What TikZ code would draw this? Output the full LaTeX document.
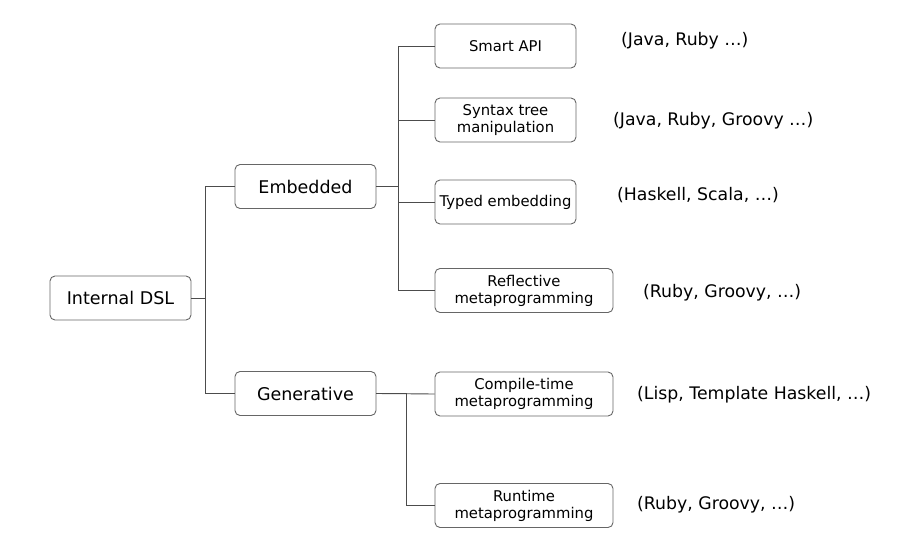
\documentclass[tikz,border=0pt]{standalone}
\usepackage{fontspec}
\setmainfont{DejaVu Sans}
\usepackage{tikz}
\usetikzlibrary{positioning}

\begin{document}
\begin{tikzpicture}[x=1pt, y=-1pt,
                % Style hộp
                bigbox/.style={draw=black!60, rounded corners=5pt, line width=0.9pt, minimum width=141pt, minimum height=44pt, inner sep=1pt, align=center, font=\fontsize{17.5}{20}\selectfont},
                smallbox/.style={draw=black!60, rounded corners=5pt, line width=0.9pt, minimum width=141pt, minimum height=44pt, inner sep=1pt, align=center, font=\fontsize{14.8}{17}\selectfont},
                widebox/.style={smallbox, minimum width=178pt},
                % Style cạnh
                edge/.style={draw=black!70, line width=0.9pt},
                % Style nhãn
                langlabel/.style={anchor=west, inner sep=0pt, font=\fontsize{17.3}{20}\selectfont}
            ]
                \useasboundingbox (0,0) rectangle (914,546);

                % --- HỘP ---
                % Root
                \node[bigbox] (dsl) at (120.5, 298) {Internal DSL};

                % Level 2
                \node[bigbox] (emb) at (305.5, 186.5) {Embedded};
                \node[bigbox] (gen) at (305.5, 393.5) {Generative};

                % Level 3 (Embedded)
                \node[smallbox] (api) at (505.5, 46) {Smart API};
                \node[smallbox] (syn) at (505.5, 120) {Syntax tree\\manipulation};
                \node[smallbox] (typ) at (505.5, 202) {Typed embedding};
                \node[widebox] (refl) at (524, 290.5) {Reflective\\metaprogramming};

                % Level 3 (Generative)
                \node[widebox] (comp) at (524, 394) {Compile-time\\metaprogramming};
                \node[widebox] (run) at (524, 505.5) {Runtime\\metaprogramming};

                % --- CẠNH ---
                \draw[edge] (dsl.east) -- ++(14,0) |- (emb.west);
                \draw[edge] (dsl.east) -- ++(14,0) |- (gen.west);

                \draw[edge] (emb.east) -- ++(22,0) |- (api.west);
                \draw[edge] (emb.east) -- ++(22,0) |- (syn.west);
                \draw[edge] (emb.east) -- ++(22,0) |- (typ.west);
                \draw[edge] (emb.east) -- ++(22,0) |- (refl.west);

                \draw[edge] (gen.east) -- (comp.west);
                \draw[edge] (gen.east) -- ++(30,0) |- (run.west);

                % --- NHÃN ---
                \node[langlabel] (lapi) at (621, 41) {(Java, Ruby …)};
                \node[langlabel] (lsyn) at (613, 121) {(Java, Ruby, Groovy …)};
                \node[langlabel] (ltyp) at (617, 195) {(Haskell, Scala, …)};
                \node[langlabel] (lrefl) at (643, 293) {(Ruby, Groovy, …)};
                \node[langlabel] (lcomp) at (637, 395) {(Lisp, Template Haskell, …)};
                \node[langlabel] (lrun) at (637, 505) {(Ruby, Groovy, …)};

            \end{tikzpicture}
\end{document}
